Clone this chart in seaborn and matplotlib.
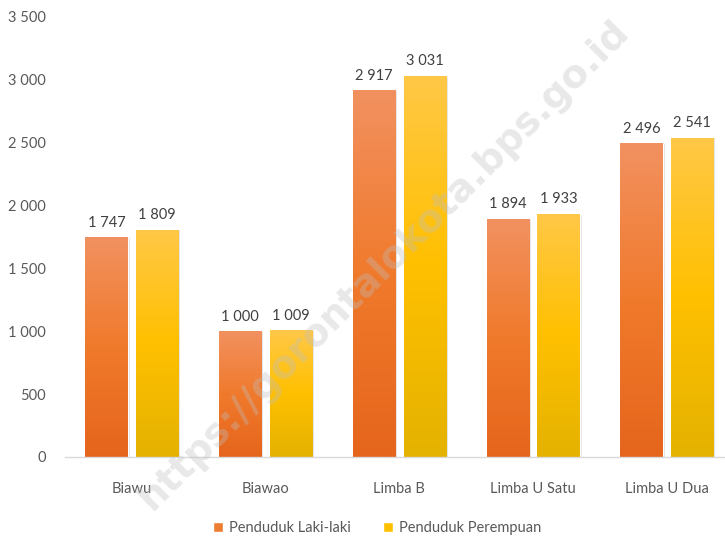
import matplotlib
matplotlib.use("Agg")
import matplotlib.pyplot as plt
import matplotlib.patheffects as pe
from matplotlib.colors import LinearSegmentedColormap
from matplotlib.patches import Patch
import numpy as np
import pandas as pd
import seaborn as sns

desa = ["Biawu", "Biawao", "Limba B", "Limba U Satu", "Limba U Dua"]
laki = [1747, 1000, 2917, 1894, 2496]
perempuan = [1809, 1009, 3031, 1933, 2541]
seri = ["Penduduk Laki-laki", "Penduduk Perempuan"]
yticks = [0, 500, 1000, 1500, 2000, 2500, 3000, 3500]

df = pd.DataFrame({
    "desa": desa * 2,
    "jumlah": laki + perempuan,
    "seri": [seri[0]] * len(desa) + [seri[1]] * len(desa),
})

sns.set_style("white")
plt.rcParams["font.family"] = ["Lato", "DejaVu Sans"]

fig = plt.figure(figsize=(7.25, 5.46), dpi=100)
ax = fig.add_axes([65 / 725, 1 - 457 / 546, 660 / 725, 440 / 546])

warna = {seri[0]: "#ED7D31", seri[1]: "#FFC000"}
sns.barplot(data=df, x="desa", y="jumlah", hue="seri", palette=warna,
            width=0.76, ax=ax, legend=False, saturation=1)

grad = {
    "#ED7D31": LinearSegmentedColormap.from_list("o", ["#E5651C", "#F07A2C", "#F29160"]),
    "#FFC000": LinearSegmentedColormap.from_list("y", ["#E4B200", "#FFC000", "#FFC847"]),
}
kunci = ["#ED7D31"] * len(desa) + ["#FFC000"] * len(desa)
g = np.linspace(0, 1, 256).reshape(-1, 1)
for p, k in zip(ax.patches, kunci):
    cx = p.get_x() + p.get_width() / 2
    w = 0.315
    p.set_x(cx - w / 2)
    p.set_width(w)
    p.set_path_effects([pe.SimplePatchShadow(offset=(1.5, -0.5), alpha=0.25, shadow_rgbFace="#808080"), pe.Normal()])
    h = p.get_height()
    im = ax.imshow(g, cmap=grad[k], origin="lower", aspect="auto",
                   extent=[cx - w / 2, cx + w / 2, 0, h], zorder=p.get_zorder() + 0.1)
    im.set_clip_path(p)
    ax.text(cx, h + 60, f"{int(h):,}".replace(",", " "), ha="center", va="bottom",
            fontsize=10.5, color="#404040")

ax.set_xlim(-0.5, -0.5 + 660 / 133.75)
ax.set_ylim(0, 3500)
ax.set_yticks(yticks)
ax.set_yticklabels([f"{v:,}".replace(",", " ") for v in yticks])
ax.tick_params(axis="both", length=0, labelsize=10.5, labelcolor="#595959")
ax.tick_params(axis="y", pad=14)
ax.tick_params(axis="x", pad=18)
ax.set_xlabel("")
ax.set_ylabel("")
for s in ["top", "right", "left"]:
    ax.spines[s].set_visible(False)
ax.spines["bottom"].set_color("#D9D9D9")
ax.spines["bottom"].set_linewidth(1)

handles = [Patch(facecolor=warna[s], label=s) for s in seri]
fig.legend(handles=handles, loc="center", bbox_to_anchor=(0.52, 1 - 528 / 546), ncol=2,
           frameon=False, fontsize=10.5, labelcolor="#595959", handlelength=0.7,
           handleheight=0.7, handletextpad=0.4, columnspacing=2.2)

fig.text(0.53, 0.515, "https://gorontalokota.bps.go.id", rotation=45, ha="center", va="center",
         fontsize=27.5, fontweight="bold", color="#BFBFBF", alpha=0.35,
         family=["DejaVu Sans"], zorder=10)

fig.savefig("out.png", dpi=100)
